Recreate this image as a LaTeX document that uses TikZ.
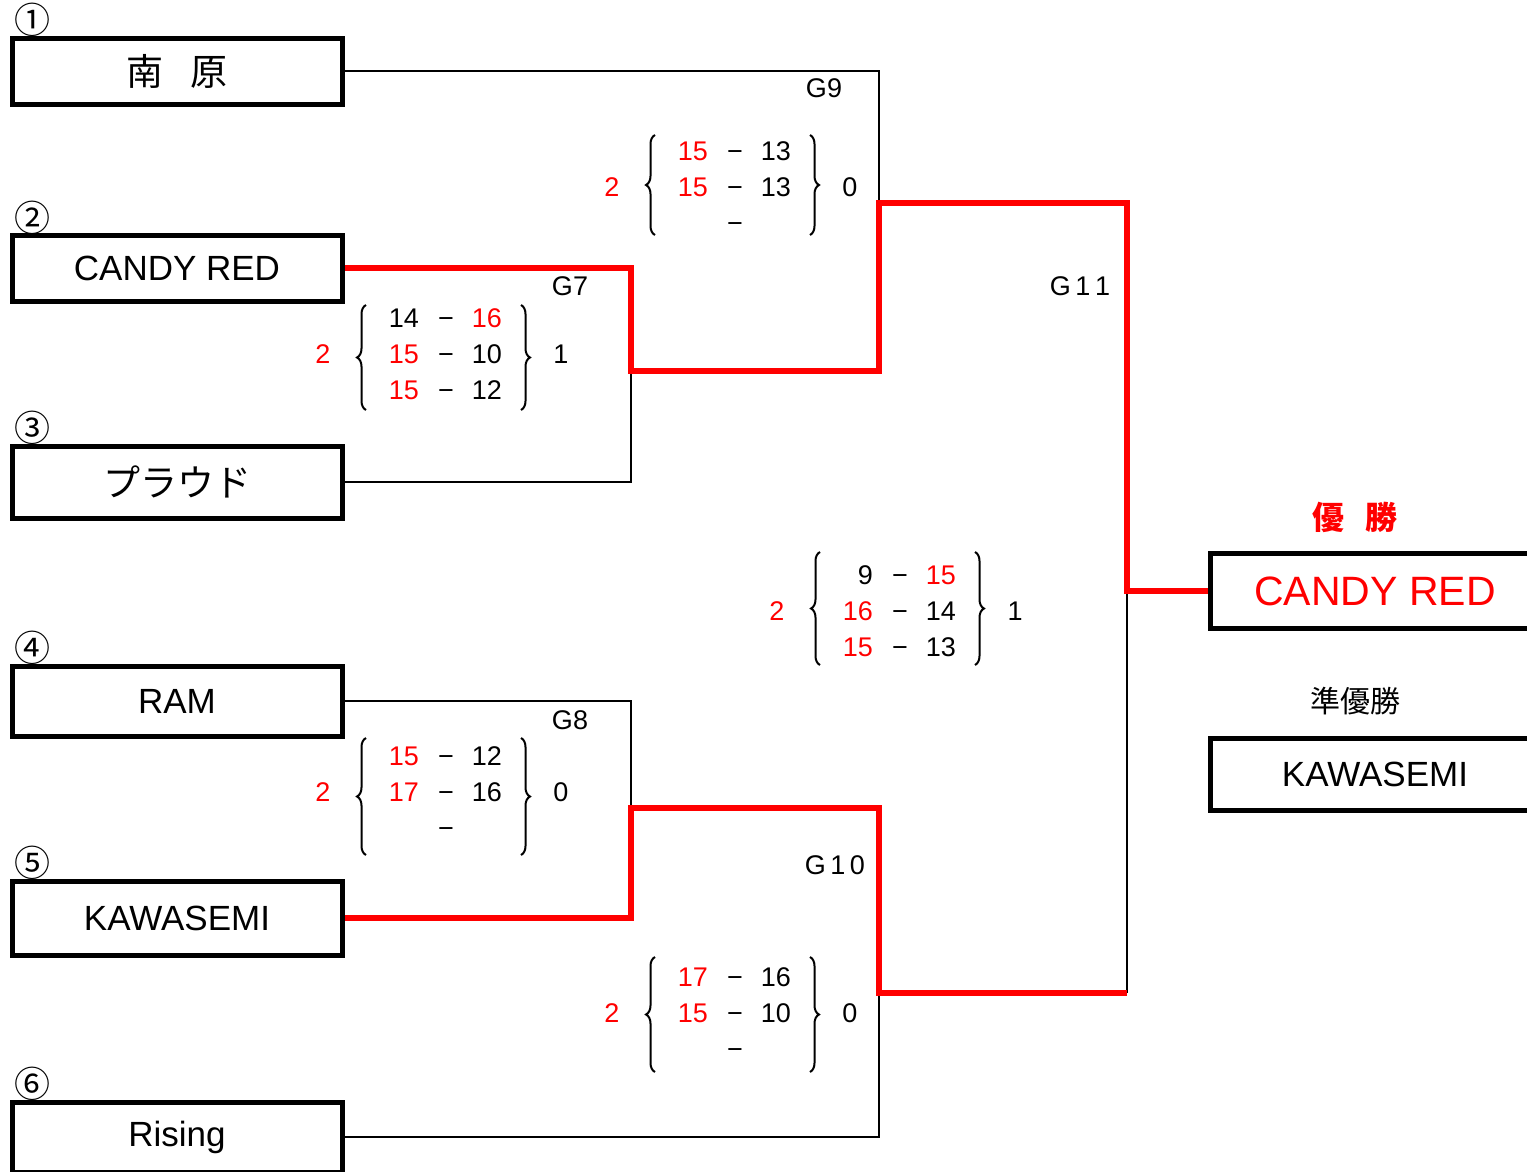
\documentclass[tikz,border=0pt]{standalone}
\usepackage{fontspec}
\setmainfont{Liberation Sans}
\newfontfamily\jp{Noto Sans CJK JP}
\usetikzlibrary{decorations.pathreplacing}
\newcommand\R[1]{\textcolor{red}{#1}}
\newcommand\sgrow[4]{%
  \node[sc,anchor=east] (#1-l) at (-27,#2) {#3};
  \node[sc] (#1-d) at (0,#2) {−};
  \node[sc,anchor=east] (#1-r) at (56,#2) {#4};}
\newcommand\scgroup[9]{%
  \begin{scope}[shift={#2}]
  \node[sc,red] (#1-lt) at (-123,0) {#3};
  \node[sc] (#1-rt) at (115,0) {#4};
  \draw[thinln,decorate,decoration={brace,amplitude=9pt}] (-80,#6) -- (-80,#5);
  \draw[thinln,decorate,decoration={brace,amplitude=9pt}] (75,#5) -- (75,#6);
  \sgrow{#1-a}{-36}#7
  \sgrow{#1-b}{0}#8
  \sgrow{#1-c}{36}#9
  \end{scope}}
\tikzset{
  team/.style={draw, line width=5pt, minimum width=330pt, minimum height=66pt, inner sep=0pt, font=\fontsize{35}{40}\selectfont},
  thinln/.style={line width=2pt},
  win/.style={line width=6pt, red},
  sc/.style={inner sep=0pt, text height=19.5pt, text depth=0pt, font=\fontsize{27}{30}\selectfont},
  glab/.style={inner sep=0pt, font=\fontsize{27}{30}\selectfont},
  num/.style={inner sep=0pt, font=\jp\fontsize{36}{38}\selectfont},
}
\begin{document}
\begin{tikzpicture}[x=1pt,y=-1pt]
\useasboundingbox (0,0) rectangle (1527,1171);
\clip (0,0) rectangle (1527,1171);
\fill[white] (0,0) rectangle (1527,1171);
% teams
\node[team] (t1) at (177,71) {\jp\fontsize{37}{40}\selectfont 南\hspace{28pt}原};
\node[team] (t2) at (177,268) {CANDY RED};
\node[team,minimum height=72pt] (t3) at (177,482) {\jp\fontsize{37}{40}\selectfont プラウド};
\node[team,minimum height=70pt] (t4) at (177,701) {RAM};
\node[team,minimum height=74pt] (t5) at (177,918) {KAWASEMI};
\node[team,minimum height=70pt] (t6) at (177,1137) {Rising};
% circled numbers
\node[num] (n1) at (33,20) {①};
\node[num] (n2) at (33,218) {②};
\node[num] (n3) at (33,428) {③};
\node[num] (n4) at (33,648) {④};
\node[num] (n5) at (33,863) {⑤};
\node[num] (n6) at (33,1084) {⑥};
% junction coordinates
\coordinate (j7) at (631,371);
\coordinate (j9) at (879,203);
\coordinate (j11) at (1127,591);
\coordinate (j8) at (631,808);
\coordinate (j10) at (879,993);
% results
\node[team,minimum height=75pt,text=red,font=\fontsize{41}{44}\selectfont] (champ) at (1375,591) {CANDY RED};
\node[team,minimum height=72pt] (runner) at (1375,774) {KAWASEMI};
\node[inner sep=0pt,text=red,font=\jp\bfseries\fontsize{32}{34}\selectfont] (yusho) at (1355,517) {優\hspace{21pt}勝};
\node[inner sep=0pt,font=\jp\fontsize{30}{32}\selectfont] (jun) at (1355,701) {準優勝};
% black connectors
\draw[thinln] (t1.east) -| (j9);
\draw[thinln] (t3.east) -| (j7);
\draw[thinln] (t4.east) -| (j8);
\draw[thinln] (t6.east) -| (j10);
\draw[thinln] (j10 -| j11) -- (j11);
% red winner paths
\draw[win] (t2.east) -| (j7) -- (j7 -| j9) -- (j9) -- (j9 -| j11) -- (j11) -- (champ.west);
\draw[win] (t5.east) -| (j8) -- (j8 -| j10) -- (j10) -- (j10 -| j11);
% game labels
\node[glab] (g9) at (824,88) {G9};
\node[glab] (g7) at (570,286) {G7};
\node[glab] (g11) at (1080,286) {G\,1\,1};
\node[glab] (g8) at (570,720) {G8};
\node[glab] (g10) at (835,865) {G\,1\,0};
% scores
\scgroup{s9}{(735,187)}{2}{0}{-52}{48}{{\R{15}}{13}}{{\R{15}}{13}}{{}{}}
\scgroup{s7}{(446,354)}{2}{1}{-49}{56}{{14}{\R{16}}}{{\R{15}}{10}}{{\R{15}}{12}}
\scgroup{s11}{(900,611)}{2}{1}{-59}{54}{{9}{\R{15}}}{{\R{16}}{14}}{{\R{15}}{13}}
\scgroup{s8}{(446,792)}{2}{0}{-54}{63}{{\R{15}}{12}}{{\R{17}}{16}}{{}{}}
\scgroup{s10}{(735,1013)}{2}{0}{-56}{59}{{\R{17}}{16}}{{\R{15}}{10}}{{}{}}
\end{tikzpicture}
\end{document}
